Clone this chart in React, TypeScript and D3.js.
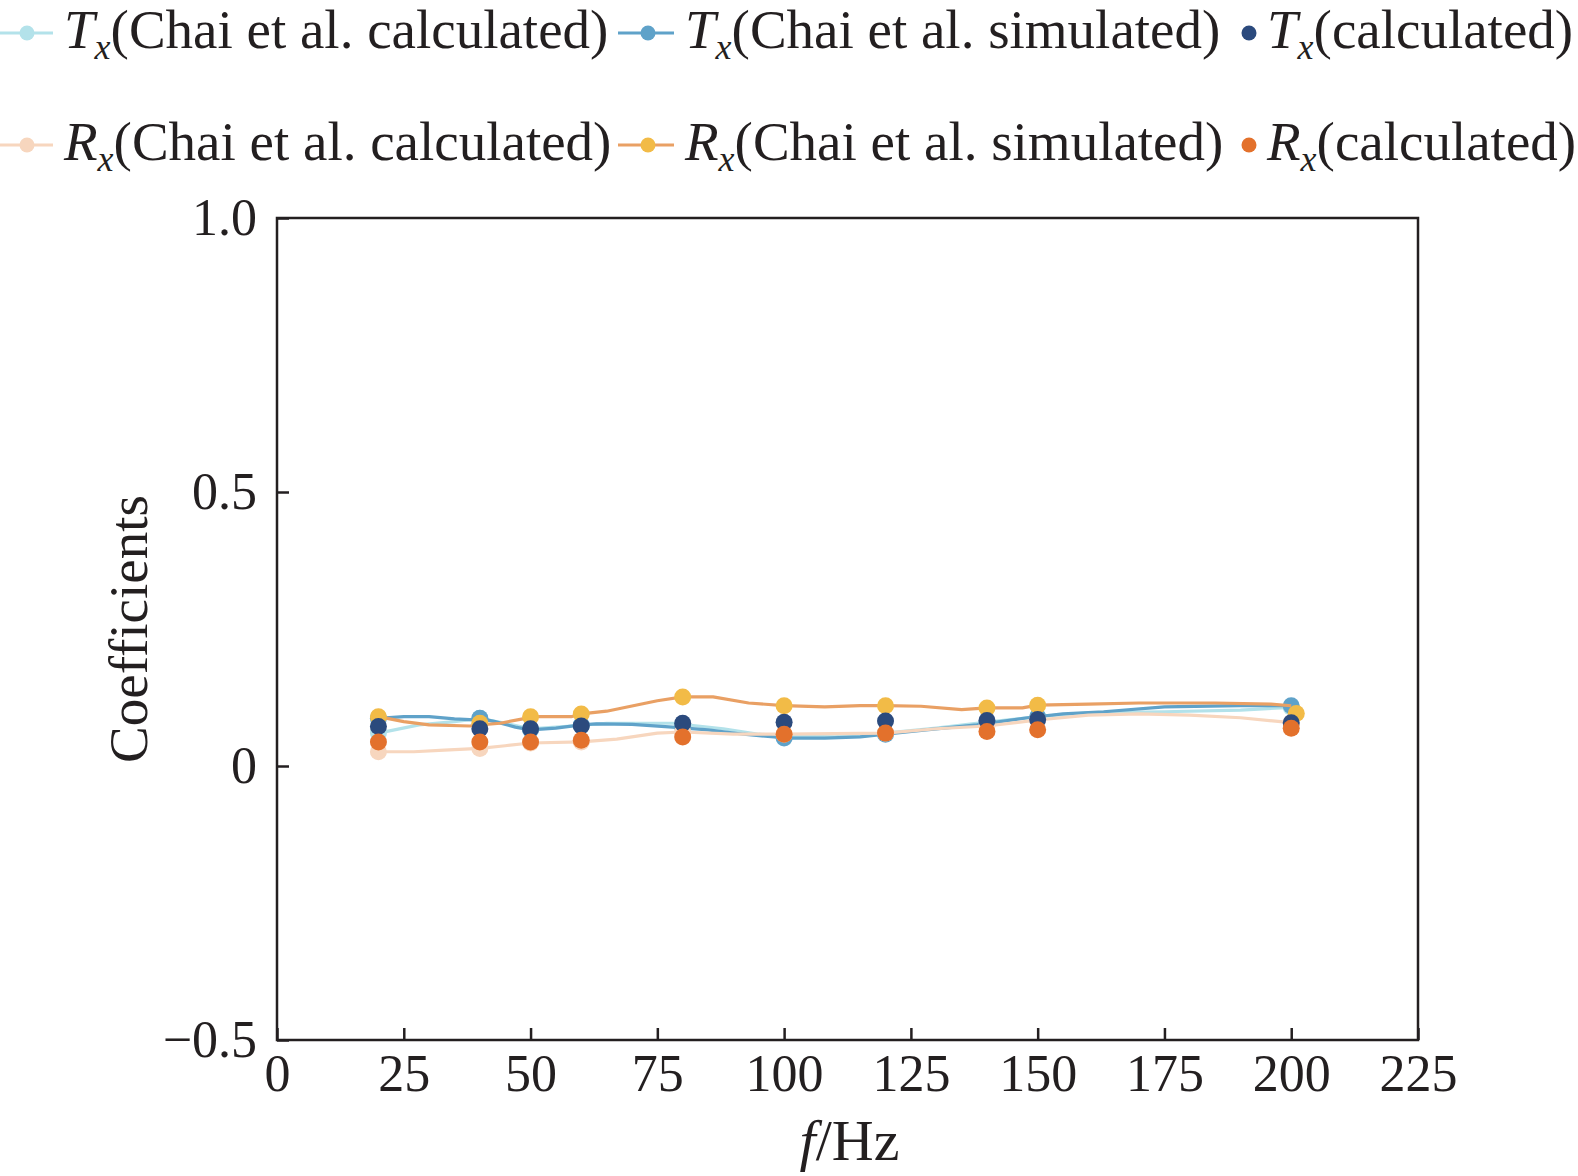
import { useEffect, useRef } from "react";
import * as d3 from "d3";

// frequencies where the symbols sit
const markerFreqs = [20, 40, 50, 60, 80, 100, 120, 140, 150, 200];

// Tx / Rx from this work (symbols only)
const txCalculated = [0.072, 0.068, 0.068, 0.073, 0.078, 0.080, 0.082, 0.083, 0.085, 0.079];
const rxCalculated = [0.044, 0.044, 0.044, 0.047, 0.053, 0.058, 0.060, 0.063, 0.066, 0.069];

// Chai et al. symbols
const txChaiCalcMarks = [0.060, 0.087, 0.068, 0.074, 0.077, 0.055, 0.060, 0.080, 0.090, 0.107];
const txChaiSimMarks = [0.087, 0.087, 0.066, 0.075, 0.071, 0.051, 0.058, 0.079, 0.090, 0.110];
const rxChaiCalcMarks = [0.026, 0.032, 0.042, 0.044, 0.062, 0.058, 0.060, 0.073, 0.084, 0.079];
const rxChaiSimFreqs = [20, 40, 50, 60, 80, 100, 120, 140, 150, 201];
const rxChaiSimMarks = [0.090, 0.078, 0.090, 0.095, 0.126, 0.110, 0.110, 0.106, 0.111, 0.096];

// Chai et al. curves, digitised [f, value]
const txChaiCalcLine = [
  [20, 0.060], [28, 0.075], [35, 0.081], [40, 0.087], [45, 0.078], [50, 0.068], [58, 0.073],
  [65, 0.078], [78, 0.078], [88, 0.068], [95, 0.058], [100, 0.055], [110, 0.053], [120, 0.060],
  [130, 0.069], [140, 0.080], [150, 0.090], [160, 0.097], [175, 0.099], [190, 0.102], [200, 0.107]
];
const txChaiSimLine = [
  [20, 0.087], [25, 0.090], [30, 0.090], [35, 0.086], [39, 0.084], [40, 0.087], [43, 0.081],
  [47, 0.071], [50, 0.066], [55, 0.069], [60, 0.075], [63, 0.077], [70, 0.076], [78, 0.071],
  [85, 0.066], [92, 0.058], [98, 0.053], [100, 0.051], [108, 0.051], [115, 0.053], [120, 0.058],
  [128, 0.066], [138, 0.075], [148, 0.088], [155, 0.095], [163, 0.099], [175, 0.108], [190, 0.110],
  [200, 0.110]
];
const rxChaiCalcLine = [
  [20, 0.026], [27, 0.026], [33, 0.029], [40, 0.032], [45, 0.037], [50, 0.042], [60, 0.044],
  [67, 0.049], [75, 0.060], [80, 0.062], [90, 0.058], [100, 0.058], [110, 0.059], [120, 0.060],
  [130, 0.068], [140, 0.073], [150, 0.084], [160, 0.093], [170, 0.095], [180, 0.093], [190, 0.088],
  [200, 0.079]
];
const rxChaiSimLine = [
  [20, 0.090], [25, 0.081], [30, 0.075], [38, 0.073], [40, 0.075], [44, 0.078], [49, 0.087],
  [50, 0.090], [58, 0.090], [60, 0.095], [65, 0.100], [75, 0.119], [80, 0.126], [86, 0.126],
  [93, 0.115], [100, 0.110], [108, 0.108], [115, 0.110], [120, 0.110], [127, 0.109], [135, 0.103],
  [140, 0.106], [147, 0.106], [150, 0.111], [160, 0.113], [170, 0.115], [185, 0.115], [196, 0.113],
  [200, 0.110]
];

const xTicks = [0, 25, 50, 75, 100, 125, 150, 175, 200, 225];
const yTicks = [-0.5, 0, 0.5, 1.0];

const C = {
  cyan: "#b3e2ea",
  blue: "#5fa2c9",
  navy: "#2b4a7d",
  peach: "#f7d6be",
  orange: "#e9a064",
  yellow: "#f2bb47",
  red: "#e3712c"
};

const FONT = "'Liberation Serif', 'Times New Roman', serif";
const INK = "#231f20";

export default function App() {
  const ref = useRef(null);

  const width = 1578, height = 1176;
  const marginTop = 218, marginRight = 160, marginBottom = 136, marginLeft = 277;

  useEffect(() => {
    const svg = d3.select(ref.current);
    svg.selectAll("*").remove();

    const x = d3.scaleLinear([0, 225], [marginLeft, width - marginRight]);
    const y = d3.scaleLinear([-0.5, 1.0], [height - marginBottom, marginTop]);

    // x axis, ticks pointing in
    svg.append("g")
      .attr("transform", `translate(0,${height - marginBottom})`)
      .call(d3.axisBottom(x).tickValues(xTicks).tickSize(-12).tickSizeOuter(0).tickPadding(14))
      .call(g => g.select(".domain").remove())
      .call(g => g.selectAll(".tick line").attr("stroke", INK).attr("stroke-width", 2.5))
      .call(g => g.selectAll(".tick text").attr("font-family", FONT).attr("font-size", 52).attr("fill", INK));

    // y axis
    svg.append("g")
      .attr("transform", `translate(${marginLeft},0)`)
      .call(d3.axisLeft(y).tickValues(yTicks).tickSize(-12).tickSizeOuter(0).tickPadding(20)
        .tickFormat(d => d === 0 ? "0" : d3.format(".1f")(d)))
      .call(g => g.select(".domain").remove())
      .call(g => g.selectAll(".tick line").attr("stroke", INK).attr("stroke-width", 2.5))
      .call(g => g.selectAll(".tick text").attr("font-family", FONT).attr("font-size", 52).attr("fill", INK));

    // frame
    svg.append("rect")
      .attr("x", marginLeft)
      .attr("y", marginTop)
      .attr("width", width - marginLeft - marginRight)
      .attr("height", height - marginTop - marginBottom)
      .attr("fill", "none")
      .attr("stroke", INK)
      .attr("stroke-width", 2.5);

    const line = d3.line().x(d => x(d[0])).y(d => y(d[1]));

    const plotLine = (pts, color) => {
      svg.append("path")
        .attr("fill", "none")
        .attr("stroke", color)
        .attr("stroke-width", 3.2)
        .attr("stroke-linejoin", "round")
        .attr("d", line(pts));
    };
    const plotDots = (fs, vs, color) => {
      svg.append("g")
        .attr("fill", color)
        .selectAll("circle")
        .data(vs)
        .join("circle")
        .attr("cx", (d, i) => x(fs[i]))
        .attr("cy", d => y(d))
        .attr("r", 8.5);
    };

    plotLine(txChaiCalcLine, C.cyan);
    plotDots(markerFreqs, txChaiCalcMarks, C.cyan);
    plotLine(txChaiSimLine, C.blue);
    plotDots(markerFreqs, txChaiSimMarks, C.blue);
    plotLine(rxChaiCalcLine, C.peach);
    plotDots(markerFreqs, rxChaiCalcMarks, C.peach);
    plotLine(rxChaiSimLine, C.orange);
    plotDots(rxChaiSimFreqs, rxChaiSimMarks, C.yellow);
    plotDots(markerFreqs, txCalculated, C.navy);
    plotDots(markerFreqs, rxCalculated, C.red);

    // axis titles
    svg.append("text")
      .attr("transform", `translate(147,${(marginTop + height - marginBottom) / 2}) rotate(-90)`)
      .attr("text-anchor", "middle")
      .attr("font-family", FONT)
      .attr("font-size", 55)
      .attr("fill", INK)
      .text("Coefficients");

    const xt = svg.append("text")
      .attr("x", (marginLeft + width - marginRight) / 2 + 2)
      .attr("y", 1160)
      .attr("text-anchor", "middle")
      .attr("font-family", FONT)
      .attr("font-size", 58)
      .attr("fill", INK);
    xt.append("tspan").attr("font-style", "italic").text("f");
    xt.append("tspan").text("/Hz");

    // legend
    const legend = [
      { sym: "T", label: "(Chai et al. calculated)", line: C.cyan, dot: C.cyan, col: 0, row: 0 },
      { sym: "T", label: "(Chai et al. simulated)", line: C.blue, dot: C.blue, col: 1, row: 0 },
      { sym: "T", label: "(calculated)", line: null, dot: C.navy, col: 2, row: 0 },
      { sym: "R", label: "(Chai et al. calculated)", line: C.peach, dot: C.peach, col: 0, row: 1 },
      { sym: "R", label: "(Chai et al. simulated)", line: C.orange, dot: C.yellow, col: 1, row: 1 },
      { sym: "R", label: "(calculated)", line: null, dot: C.red, col: 2, row: 1 }
    ];
    const colX = [27, 648, 1249];
    const rowY = [33, 145];

    legend.forEach(d => {
      const cx = colX[d.col], cy = rowY[d.row];
      const g = svg.append("g");
      if (d.line) {
        g.append("line")
          .attr("x1", cx - 30).attr("x2", cx + 26)
          .attr("y1", cy).attr("y2", cy)
          .attr("stroke", d.line).attr("stroke-width", 3.2);
      }
      g.append("circle").attr("cx", cx).attr("cy", cy).attr("r", 7.5).attr("fill", d.dot);
      const t = g.append("text")
        .attr("x", cx + (d.line ? 37 : 18))
        .attr("y", cy + 15)
        .attr("font-family", FONT)
        .attr("font-size", 55)
        .attr("fill", INK);
      t.append("tspan").attr("font-style", "italic").text(d.sym);
      t.append("tspan").attr("font-style", "italic").attr("font-size", 36).attr("dy", 11).text("x");
      t.append("tspan").attr("dy", -11).text(d.label);
    });
  }, []);

  return (
    <div>
      <svg
        ref={ref}
        viewBox={`0 0 ${width} ${height}`}
        preserveAspectRatio="xMidYMid meet"
        style={{ position: "fixed", left: 0, top: 0, width: "100vw", height: "100vh", display: "block", background: "#fff" }}
      />
    </div>
  );
}
